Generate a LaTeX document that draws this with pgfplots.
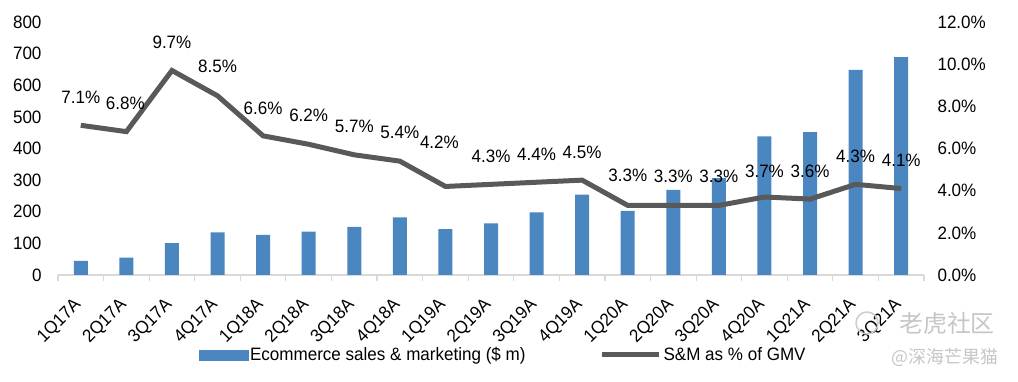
\documentclass[border=0pt]{standalone}
\usepackage{fontspec}
\setmainfont{Liberation Sans}[FakeStretch=0.95]
\newfontfamily\cjk{Noto Sans CJK SC}
\usepackage{pgfplots}
\usepackage{pgfplotstable}
\pgfplotsset{compat=1.18}
\pgfplotsset{/pgf/number format/assume math mode=true}
\definecolor{barblue}{RGB}{74,134,192}
\definecolor{linegray}{RGB}{89,89,89}
\definecolor{axisgray}{RGB}{217,217,217}
\newcommand{\lbl}{\fontsize{18}{20}\selectfont}
\pgfplotstableread{
x y dx dy
0 7.1 0 28
1 6.8 -1 28
2 9.7 0 28
3 8.5 0 29
4 6.6 0 28
5 6.2 0 29
6 5.7 0 28
7 5.4 0 29
8 4.2 -6 44
9 4.3 0 28
10 4.4 0 28
11 4.5 0 28
12 3.3 0 30
13 3.3 0 29
14 3.3 0 29
15 3.7 0 26
16 3.6 0 28
17 4.3 0 28
18 4.1 0 28
}\smtable
\begin{document}
\begin{tikzpicture}
\path[use as bounding box] (-58bp,-107bp) rectangle (960bp,275bp);
\begin{axis}[
  at={(0,0)}, anchor=south west,
  width=866bp, height=253bp, scale only axis,
  xmin=-0.5, xmax=18.5, ymin=0, ymax=800,
  axis x line*=bottom, axis y line*=left,
  y axis line style={draw=none},
  x axis line style={axisgray, line width=1.5bp, -},
  ytick={0,100,...,800},
  xtick={0,...,18},
  xticklabels={1Q17A,2Q17A,3Q17A,4Q17A,1Q18A,2Q18A,3Q18A,4Q18A,1Q19A,2Q19A,3Q19A,4Q19A,1Q20A,2Q20A,3Q20A,4Q20A,1Q21A,2Q21A,3Q21A},
  major tick length=0pt,
  minor xtick={-0.5,0.5,...,18.5},
  minor tick length=6bp,
  tick align=outside,
  minor x tick style={axisgray, line width=1.2bp},
  ticklabel style={font=\lbl, text=black},
  xticklabel style={rotate=45, anchor=east},
  xticklabel shift=25bp,
  yticklabel shift=13bp,
]
\addplot[ybar, bar width=14bp, fill=barblue, draw=none] coordinates {
(0,45) (1,55) (2,101) (3,135) (4,127) (5,137) (6,152) (7,182) (8,145) (9,163)
(10,198) (11,254) (12,203) (13,269) (14,306) (15,438) (16,452) (17,649) (18,689)
};
\end{axis}
\begin{axis}[
  at={(0,0)}, anchor=south west,
  width=866bp, height=253bp, scale only axis,
  xmin=-0.5, xmax=18.5, ymin=0, ymax=12,
  axis x line=none, axis y line*=right,
  y axis line style={draw=none},
  ytick={0,2,...,12},
  yticklabel={\pgfmathprintnumber[fixed,fixed zerofill,precision=1]{\tick}\%},
  major tick length=0pt,
  ticklabel style={font=\lbl, text=black},
  yticklabel shift=10bp,
  legend style={at={(0.514,-0.316)}, anchor=center, draw=none, fill=none,
    font=\lbl, legend columns=2,
    /tikz/every even column/.append style={column sep=72bp}},
]
\addlegendimage{legend image code/.code={\fill[barblue] (0bp,-5bp) rectangle (49bp,5bp);}}
\addlegendentry{Ecommerce sales \& marketing (\$ m)}
\addplot[linegray, line width=5bp, mark=none,
  visualization depends on={\thisrow{dx} \as \ldx},
  visualization depends on={\thisrow{dy} \as \ldy},
  nodes near coords={\pgfmathprintnumber[fixed,fixed zerofill,precision=1]{\pgfplotspointmeta}\%},
  point meta=y,
  every node near coord/.style={anchor=center, xshift=\ldx bp, yshift=\ldy bp, font=\lbl, text=black},
  legend image code/.code={\draw[linegray, line width=5bp] (0bp,0bp) -- (57bp,0bp);}
] table[x=x, y=y] {\smtable};
\addlegendentry{S\&M as \% of GMV}
\end{axis}
\draw[gray!40, line width=1.5bp] (809bp,-48bp) circle (11bp);
\node[text=gray!45, font=\cjk\fontsize{24}{24}\selectfont] at (889bp,-48bp) {老虎社区};
\node[text=gray!45, font=\cjk\fontsize{18}{18}\selectfont] at (887bp,-83bp) {@深海芒果猫};
\end{tikzpicture}
\end{document}
